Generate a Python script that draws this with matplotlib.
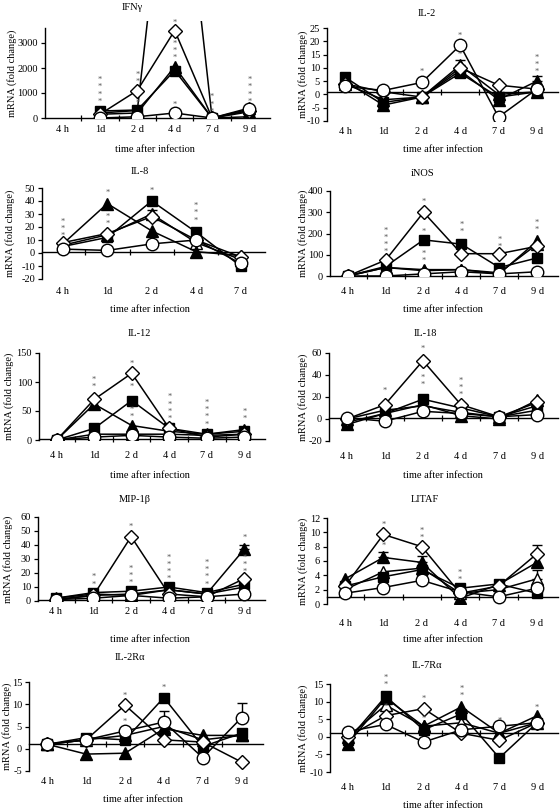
import matplotlib
matplotlib.use('Agg')
import matplotlib.pyplot as plt
import matplotlib.transforms as mtransforms
import numpy as np

plt.rcParams['font.family'] = ['Liberation Serif', 'DejaVu Serif']

W, H = 560, 810
nan = np.nan

times6 = ['4 h', '1d', '2 d', '4 d', '7 d', '9 d']
times5 = ['4 h', '1d', '2 d', '4 d', '7 d']

# series keys: sq = filled square, tri = filled triangle, dia = open diamond,
# circ = open circle, otri = open triangle
ifng = dict(sq=[nan, 280, 320, 1900, 0, 50],
            tri=[nan, 150, 200, 2050, 0, 400],
            dia=[nan, 150, 1100, 3500, 0, 300],
            circ=[nan, 0, 50, 200, 0, 350],
            otri=[nan, 200, 300, 13500, 0, 250])
il2 = dict(sq=[6.5, -3, -1, 8, -1, 1],
           tri=[5, -4, -1, 9, -2, 5],
           dia=[4, 1, -1, 10, 3.5, 2],
           circ=[3, 1.5, 4.5, 18.5, -8.5, 2],
           otri=[4, -2, -1, 11, 0, 1])
il8 = dict(sq=[5, 12, 40, 16, -10],
           tri=[7, 38, 17, 1, -2],
           dia=[8, 15, 28, 10, -3],
           circ=[3, 2, 7, 10, -8],
           otri=[6, 14, 30, 8, -5])
inos = dict(sq=[0, 45, 170, 150, 40, 85],
            tri=[0, 40, 25, 30, 10, 165],
            dia=[0, 75, 300, 105, 105, 140],
            circ=[0, 0, 10, 20, 10, 20],
            otri=[0, 40, 30, 30, 15, 150])
il12 = dict(sq=[0, 20, 68, 20, 10, 15],
            tri=[0, 62, 25, 15, 10, 18],
            dia=[0, 70, 115, 20, 5, 10],
            circ=[0, 5, 8, 5, 3, 5],
            otri=[0, 10, 10, 10, 8, 10])
il18 = dict(sq=[-3, 5, 18, 10, 2, 12],
            tri=[-5, 5, 13, 3, 0, 17],
            dia=[0, 13, 53, 13, 2, 15],
            circ=[1, -2, 7, 5, 2, 4],
            otri=[0, 8, 12, 6, 2, 8])
mip = dict(sq=[2, 6, 7, 10, 6, 12],
           tri=[2, 5, 4, 8, 5, 37],
           dia=[1, 4, 46, 5, 3, 16],
           circ=[1, 2, 4, 2, 3, 5],
           otri=[1, 4, 5, 8, 5, 10])
litaf = dict(sq=[2.5, 3.8, 4.8, 2.2, 2.8, 1.5],
             tri=[3.5, 6.5, 5.8, 0.8, 2.7, 5.8],
             dia=[2.5, 9.7, 8, 1.5, 2.5, 7],
             circ=[1.5, 2.3, 3.3, 1.7, 1, 2.2],
             otri=[2, 4.5, 5, 1.5, 2, 3.5])
il2ra = dict(sq=[1, 2.5, 2, 11.5, 0.5, 3.5],
             tri=[1, -1.2, -1, 4.5, 3, 3],
             dia=[1, 2, 9.8, 2, 1.5, -3],
             circ=[1, 2, 4, 6, -2, 7],
             otri=[1, 2, 3, 5, 2, 3])
il7ra = dict(sq=[-1, 11.5, 2, 6.5, -6, 4],
             tri=[-2, 11, 3, 8.5, 1, 6],
             dia=[0, 6, 8, 1, -1, 4],
             circ=[1.5, 3.5, -1.5, 2, 3, 4],
             otri=[0, 9, 3, 4, 1, 4])

# upper error bars: (series, time index, top of bar)
il2_err = [('otri', 3, 13), ('tri', 5, 7)]
il8_err = [('otri', 2, 33)]
mip_err = [('tri', 5, 40)]
litaf_err = [('tri', 1, 7.3), ('tri', 2, 6.7), ('dia', 5, 8.3), ('otri', 5, 4.8)]
il2ra_err = [('circ', 3, 8.5), ('circ', 5, 10.2)]

# significance stars: (time index, y, count)
ifng_st = [(1, 500, 4), (2, 1300, 2), (2, 450, 1), (4 - 1, 3650, 1), (3, 2250, 3), (3, 350, 1), (4, 100, 3), (5, 500, 4)]
il2_st = [(2, 7, 1), (3, 20.5, 1), (3, 13.5, 1), (5, 7, 3)]
il8_st = [(0, 10, 3), (1, 43, 1), (1, 19, 2), (2, 45, 1), (3, 22, 3)]
inos_st = [(1, 95, 4), (2, 330, 1), (2, 190, 1), (2, 50, 2), (3, 190, 2), (4, 120, 2), (5, 200, 2)]
il12_st = [(1, 85, 2), (2, 125, 1), (2, 85, 1), (2, 33, 2), (3, 30, 4), (4, 20, 4), (5, 30, 2)]
il18_st = [(1, 22, 1), (2, 60, 1), (2, 27, 2), (3, 18, 3)]
mip_st = [(1, 9, 2), (2, 50, 1), (2, 10, 3), (3, 13, 4), (4, 9, 4), (5, 42, 1), (5, 18, 3)]
litaf_st = [(1, 10.5, 1), (1, 7.5, 1), (2, 8.7, 2), (3, 2.8, 2)]
il2ra_st = [(2, 11, 1), (2, 5.2, 1), (3, 12.8, 1)]
il7ra_st = [(1, 13.5, 2), (1, 7.5, 1), (2, 9.5, 1), (2, 4, 1), (3, 10.5, 2), (4, 3.5, 1), (5, 7, 1)]

style = dict(
    otri=dict(marker='^', mfc='white', ms=8),
    sq=dict(marker='s', mfc='black', ms=7),
    tri=dict(marker='^', mfc='black', ms=8),
    dia=dict(marker='D', mfc='white', ms=7),
    circ=dict(marker='o', mfc='white', ms=9),
)

fig = plt.figure(figsize=(W / 100, H / 100), dpi=100)


def fx(px):
    return px / W


def fy(py):
    return 1 - py / H


def panel(title, d, labels, ylim, yticks, box, title_xy, tick_y, xlab_xy, ylab_x,
          errs=(), stars=(), spine_top=None):
    L, T, R, B = box
    ax = fig.add_axes([fx(L), fy(B), fx(R) - fx(L), (B - T) / H])
    n = len(labels)
    x = np.arange(n)
    for key in ['otri', 'sq', 'tri', 'dia', 'circ']:
        ax.plot(x, d[key], color='black', lw=1.1, mec='black', mew=1.0,
                zorder=3, **style[key])
    for key, i, top in errs:
        y = d[key][i]
        ax.errorbar([i], [y], yerr=[[0], [top - y]], fmt='none', ecolor='black',
                    elinewidth=1.0, capsize=3.5, capthick=1.0, zorder=2)
    for i, y, c in stars:
        ax.text(i, y, '\n'.join(['*'] * c), ha='center', va='bottom', fontsize=6,
                color='#555555', linespacing=0.85, zorder=4)
    ax.set_xlim(-0.47, n - 0.45)
    ax.set_ylim(*ylim)
    ax.set_yticks(yticks)
    ax.set_yticklabels([str(t) for t in yticks])
    ax.tick_params(axis='y', direction='out', length=3, width=0.9, labelsize=7.5, pad=2)
    for s in ['top', 'right']:
        ax.spines[s].set_visible(False)
    ax.spines['left'].set_linewidth(1.0)
    if spine_top is not None:
        ax.spines['left'].set_bounds(ylim[0], spine_top)
    ax.spines['bottom'].set_position(('data', 1))
    ax.spines['bottom'].set_linewidth(1.0)
    ax.set_xticks([])
    ax.set_xticks(np.arange(n - 1) + 0.5, minor=True)
    ax.tick_params(axis='x', which='minor', direction='inout', length=4, width=0.9,
                   labelbottom=False)
    trans = mtransforms.blended_transform_factory(ax.transData, fig.transFigure)
    for i, lab in enumerate(labels):
        ax.text(i, fy(tick_y), lab, transform=trans, ha='center', va='center',
                fontsize=7.5, clip_on=False)
    fig.text(fx(title_xy[0]), fy(title_xy[1]), title, ha='center', va='center', fontsize=7.5)
    fig.text(fx(xlab_xy[0]), fy(xlab_xy[1]), 'time after infection', ha='center',
             va='center', fontsize=7.5)
    fig.text(fx(ylab_x), fy((T + B) / 2 if spine_top is None else (28 + B) / 2),
             'mRNA (fold change)', rotation=90, ha='center', va='center', fontsize=7.5)
    return ax


panel('IFNγ', ifng, times6, (0, 3900), [0, 1000, 2000, 3000], (45, 20.5, 270, 118),
      (132, 8), 130, (155, 150), 12, stars=ifng_st, spine_top=3600)
panel('IL-2', il2, times6, (-10, 25), list(range(-10, 26, 5)), (327, 28, 558, 121),
      (427, 13), 131, (443, 150), 303, errs=il2_err, stars=il2_st)
panel('IL-8', il8, times5, (-20, 50), list(range(-20, 51, 10)), (42, 188, 265, 279),
      (140, 172), 292, (150, 309), 10, errs=il8_err, stars=il8_st)
panel('iNOS', inos, times6, (0, 400), list(range(0, 401, 100)), (330, 191, 558, 276),
      (423, 173), 292, (443, 309), 303, stars=inos_st)
panel('IL-12', il12, times6, (0, 150), [0, 50, 100, 150], (39, 353, 265, 440),
      (139, 333), 455, (150, 475), 9, stars=il12_st)
panel('IL-18', il18, times6, (-20, 60), list(range(-20, 61, 20)), (329, 353, 558, 441),
      (425, 333), 456, (443, 475), 303, stars=il18_st)
panel('MIP-1β', mip, times6, (0, 60), list(range(0, 61, 10)), (38, 517, 265, 601),
      (135, 500), 612, (150, 640), 8, errs=mip_err, stars=mip_st)
panel('LITAF', litaf, times6, (0, 12), list(range(0, 13, 2)), (327, 518, 558, 604),
      (425, 500), 623, (443, 640), 303, errs=litaf_err, stars=litaf_st)
panel('IL-2Rα', il2ra, times6, (-5, 15), [-5, 0, 5, 10, 15], (29, 682, 263, 771),
      (130, 657), 782, (143, 800), 7, errs=il2ra_err, stars=il2ra_st)
panel('IL-7Rα', il7ra, times6, (-10, 15), list(range(-10, 16, 5)), (330, 684, 558, 772),
      (427, 665), 788, (443, 806), 303, stars=il7ra_st)

fig.savefig('out.png', dpi=100)
